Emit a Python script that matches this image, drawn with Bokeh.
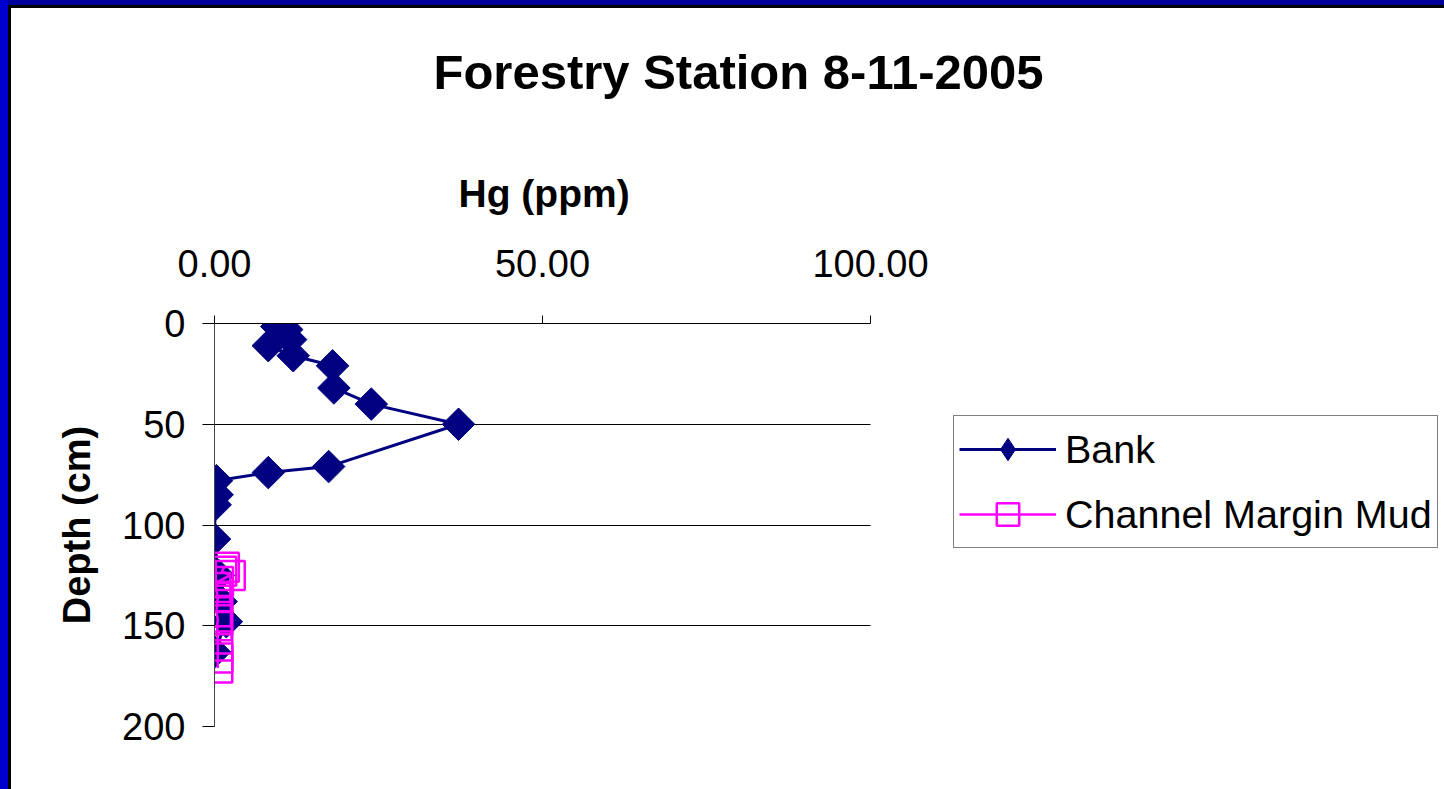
import numpy as np
from bokeh.plotting import figure
from bokeh.models import Range1d, FixedTicker, PrintfTickFormatter, Legend, LegendItem, Title
from bokeh.embed import file_html
from bokeh.resources import INLINE

# Hg concentration (ppm) against sample depth (cm)
bank_hg = [9.5, 11.0, 11.6, 8.2, 12.0, 18.0, 18.2, 23.9, 37.2, 17.4, 8.2, 0.3, 0.4, 0.1, 0.0, 0.6, 1.0, 1.8, 0.0]
bank_depth = [1.5, 3, 8, 11, 16, 21, 32, 40, 50, 71, 74, 78, 85, 90, 107, 125, 138, 148, 163]

mud_hg = [1.5, 1.1, 2.4, 0.6, 0.2, 0.5, 0.3, 0.5, 0.4, 0.5, 0.5, 0.5]
mud_depth = [121, 123, 125, 128, 131, 136, 143, 147, 150, 160, 166, 171]

x_ticks = [0, 50, 100]
y_ticks = [0, 50, 100, 150, 200]
x_axis_end = 100

FONT = "Liberation Sans"

# The plotting frame runs to the right edge so the legend can sit beside the
# axes; the x axis and grid are bounded to 0-100 ppm.
W, H = 1444, 789
LEFT, AXIS_W = 214, 656
x_view_end = x_axis_end * (W - LEFT) / AXIS_W

p = figure(width=W, height=H, output_backend="svg", toolbar_location=None,
           x_range=Range1d(0, x_view_end), y_range=Range1d(200, 0),
           x_axis_location="above",
           min_border_left=LEFT, min_border_right=0,
           min_border_top=323, min_border_bottom=63)

# slide-style frame: blue edge with a dark inner rule
p.border_fill_color = None
p.styles = {"background-color": "white",
            "box-shadow": "inset 8px 0 0 #0000cc, inset 0 5px 0 #00009c, inset 11px 8px 0 #000000"}
p.outline_line_color = None
p.background_fill_color = None

p.title.text = "Forestry Station 8-11-2005"
p.title.text_font = FONT
p.title.text_font_size = "49px"
p.title.text_font_style = "bold"
p.title.text_color = "black"
p.title.align = "left"
p.title.offset = 219
p.title.standoff = 78

# heading of the x axis, centred over the 0-100 ppm span
hg_title = Title(text="Hg (ppm)", text_font=FONT, text_font_size="39px",
                 text_font_style="bold", text_color="black",
                 align="left", offset=244, standoff=64)
p.add_layout(hg_title, "above")

xa = p.xaxis[0]
xa.bounds = (0, x_axis_end)
xa.ticker = FixedTicker(ticks=x_ticks)
xa.formatter = PrintfTickFormatter(format="%.2f")
xa.major_label_text_font = FONT
xa.major_label_text_font_size = "38px"
xa.major_label_text_color = "black"
xa.major_label_standoff = 39
xa.major_tick_in = 0
xa.major_tick_out = 8
xa.minor_tick_line_color = None
xa.axis_line_color = "black"
xa.major_tick_line_color = "black"

ya = p.yaxis[0]
ya.ticker = FixedTicker(ticks=y_ticks)
ya.formatter = PrintfTickFormatter(format="%d")
ya.axis_label = "Depth (cm)"
ya.axis_label_text_font = FONT
ya.axis_label_text_font_size = "38px"
ya.axis_label_text_font_style = "bold"
ya.axis_label_text_color = "black"
ya.axis_label_standoff = 21
ya.major_label_text_font = FONT
ya.major_label_text_font_size = "38px"
ya.major_label_text_color = "black"
ya.major_label_standoff = 17
ya.major_tick_in = 0
ya.major_tick_out = 12
ya.minor_tick_line_color = None
ya.axis_line_color = "#444444"
ya.major_tick_line_color = "black"

p.xgrid.visible = False
p.ygrid.ticker = FixedTicker(ticks=y_ticks)
p.ygrid.cross_bounds = (0, x_axis_end)
p.ygrid.grid_line_color = "black"
p.ygrid.grid_line_width = 1

bank_line = p.line(bank_hg, bank_depth, line_color="#000080", line_width=3)
bank_pts = p.scatter(bank_hg, bank_depth, marker="square", angle=np.pi / 4, size=23,
                     fill_color="#000080", line_color="#000080")
# diamond swatch for the legend key (not drawn in the plot itself)
bank_key = p.scatter(bank_hg[:1], bank_depth[:1], marker="diamond",
                     fill_color="#000080", line_color="#000080", visible=False)

mud_line = p.line(mud_hg, mud_depth, line_color="#ff00ff", line_width=2.5)
mud_pts = p.scatter(mud_hg, mud_depth, marker="square", size=29, fill_color=None,
                    line_color="#ff00ff", line_width=2.5)

legend = Legend(items=[LegendItem(label="Bank", renderers=[bank_line, bank_key]),
                       LegendItem(label="Channel Margin Mud", renderers=[mud_line, mud_pts])],
                location=(739, 178))
legend.label_text_font = FONT
legend.label_text_font_size = "39.5px"
legend.label_text_color = "black"
legend.border_line_color = "black"
legend.border_line_width = 1
legend.background_fill_color = "white"
legend.background_fill_alpha = 1
legend.inactive_fill_alpha = 0
legend.padding = 5
legend.margin = 0
legend.glyph_width = 97
legend.glyph_height = 56
legend.label_height = 56
legend.spacing = 9
legend.label_standoff = 9
p.add_layout(legend)

open("out.html", "w").write(file_html(p, INLINE))
